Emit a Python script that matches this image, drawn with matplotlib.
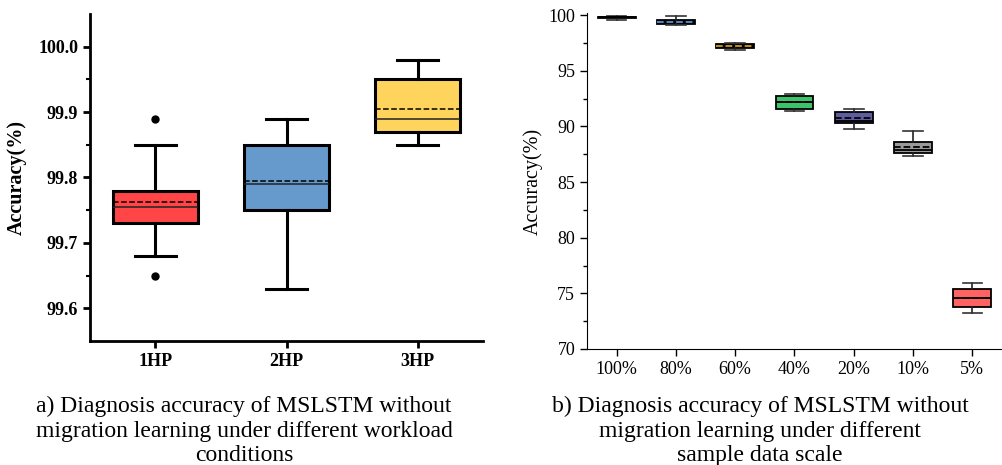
import matplotlib
matplotlib.use("Agg")
import matplotlib.pyplot as plt

# panel a) workload conditions
loads = ["1HP", "2HP", "3HP"]
load_q1 = [99.73, 99.75, 99.87]
load_q3 = [99.78, 99.85, 99.95]
load_med = [99.755, 99.79, 99.89]
load_mean = [99.762, 99.794, 99.905]
load_lo = [99.68, 99.63, 99.85]
load_hi = [99.85, 99.89, 99.98]
load_fliers = [[99.89, 99.65], [], []]
load_colors = ["#FF4545", "#6699CC", "#FFD45C"]

# panel b) sample data scale
scales = ["100%", "80%", "60%", "40%", "20%", "10%", "5%"]
scale_q1 = [99.75, 99.2, 97.1, 91.56, 90.28, 87.58, 73.8]
scale_q3 = [99.85, 99.6, 97.46, 92.73, 91.27, 88.6, 75.4]
scale_med = [99.8, 99.4, 97.25, 92.16, 90.52, 87.88, 74.54]
scale_mean = [99.8, 99.43, 97.25, 92.2, 90.73, 88.18, 74.56]
scale_lo = [99.6, 99.16, 96.92, 91.35, 89.77, 87.35, 73.2]
scale_hi = [99.9, 99.9, 97.55, 92.94, 91.6, 89.6, 75.9]
scale_colors = ["#222222", "#1f2a44", "#3a3320", "#3CC46A", "#5E5E9E", "#9A9A9A", "#FF6262"]
scale_mean_colors = ["black", "#5B8FD0", "#C8A020", "black", "black", "black", "black"]


def stats(q1, q3, med, mean, lo, hi, fl=None):
    out = []
    for i in range(len(q1)):
        out.append(dict(q1=q1[i], q3=q3[i], med=med[i], mean=mean[i],
                        whislo=lo[i], whishi=hi[i],
                        fliers=fl[i] if fl else []))
    return out


fig = plt.figure(figsize=(10.03, 4.65), dpi=100)

# ---- left
ax1 = fig.add_axes([0.0897, 0.2667, 0.3919, 0.7032])
bp = ax1.bxp(stats(load_q1, load_q3, load_med, load_mean, load_lo, load_hi, load_fliers),
             positions=[1, 2, 3], widths=0.65, patch_artist=True,
             showmeans=True, meanline=True,
             boxprops=dict(linewidth=2.2, edgecolor="black"),
             whiskerprops=dict(linewidth=2.2),
             capprops=dict(linewidth=2.2),
             medianprops=dict(color="#222222", linewidth=1.1),
             meanprops=dict(color="black", linestyle="--", linewidth=1.1),
             flierprops=dict(marker="o", markerfacecolor="black", markeredgecolor="black", markersize=5))
for patch, c in zip(bp["boxes"], load_colors):
    patch.set_facecolor(c)
for cap in bp["caps"]:
    x = cap.get_xdata()
    m = x.mean()
    cap.set_xdata([m - 0.16, m + 0.16])
ax1.set_xlim(0.5, 3.5)
ax1.set_ylim(99.55, 100.05)
ax1.set_yticks([99.6, 99.7, 99.8, 99.9, 100.0])
ax1.set_yticks([99.65, 99.75, 99.85, 99.95], minor=True)
ax1.set_yticklabels(["99.6", "99.7", "99.8", "99.9", "100.0"])
ax1.set_xticks([1, 2, 3])
ax1.set_xticklabels(loads)
for lab in ax1.get_xticklabels() + ax1.get_yticklabels():
    lab.set_fontfamily("Liberation Serif")
    lab.set_fontweight("bold")
    lab.set_fontsize(13)
ax1.set_ylabel("Accuracy(%)", fontfamily="Liberation Serif", fontweight="bold", fontsize=14.5, labelpad=8.5)
ax1.spines["top"].set_visible(False)
ax1.spines["right"].set_visible(False)
ax1.spines["left"].set_linewidth(2)
ax1.spines["bottom"].set_linewidth(2)
ax1.tick_params(which="major", width=2, length=5)
ax1.tick_params(which="minor", width=1.5, length=3)

# ---- right
ax2 = fig.add_axes([0.5852, 0.2495, 0.4138, 0.7225])
bp2 = ax2.bxp(stats(scale_q1, scale_q3, scale_med, scale_mean, scale_lo, scale_hi),
              positions=range(1, 8), widths=0.64, patch_artist=True,
              showmeans=True, meanline=True, showfliers=False,
              boxprops=dict(linewidth=1.3, edgecolor="black"),
              whiskerprops=dict(linewidth=1.2, color="#222222"),
              capprops=dict(linewidth=1.2, color="#333333"),
              medianprops=dict(color="black", linewidth=1.3),
              meanprops=dict(linestyle="--", linewidth=1.3))
for patch, c in zip(bp2["boxes"], scale_colors):
    patch.set_facecolor(c)
for ln, c in zip(bp2["means"], scale_mean_colors):
    ln.set_color(c)
for cap in bp2["caps"]:
    x = cap.get_xdata()
    m = x.mean()
    cap.set_xdata([m - 0.165, m + 0.165])
ax2.set_xlim(0.5, 7.5)
ax2.set_ylim(70, 100.2)
ax2.set_yticks([70, 75, 80, 85, 90, 95, 100])
ax2.set_yticks([72.5, 77.5, 82.5, 87.5, 92.5, 97.5], minor=True)
ax2.set_xticks(range(1, 8))
ax2.set_xticklabels(scales)
for lab in ax2.get_xticklabels() + ax2.get_yticklabels():
    lab.set_fontfamily("Liberation Serif")
    lab.set_fontsize(13)
ax2.set_ylabel("Accuracy(%)", fontfamily="Liberation Serif", fontsize=14.5, labelpad=4)
ax2.spines["top"].set_visible(False)
ax2.spines["right"].set_visible(False)
ax2.tick_params(which="major", width=1, length=5)
ax2.tick_params(which="minor", width=1, length=3)

cap_a = "a) Diagnosis accuracy of MSLSTM without\nmigration learning under different workload\nconditions"
cap_b = "b) Diagnosis accuracy of MSLSTM without\nmigration learning under different\nsample data scale"
fig.text(0.2433, 0.148, cap_a, ha="center", va="top", fontfamily="Liberation Serif",
         fontsize=17, linespacing=1.2)
fig.text(0.7577, 0.148, cap_b, ha="center", va="top", fontfamily="Liberation Serif",
         fontsize=17, linespacing=1.2)

fig.savefig("out.png", dpi=100)
